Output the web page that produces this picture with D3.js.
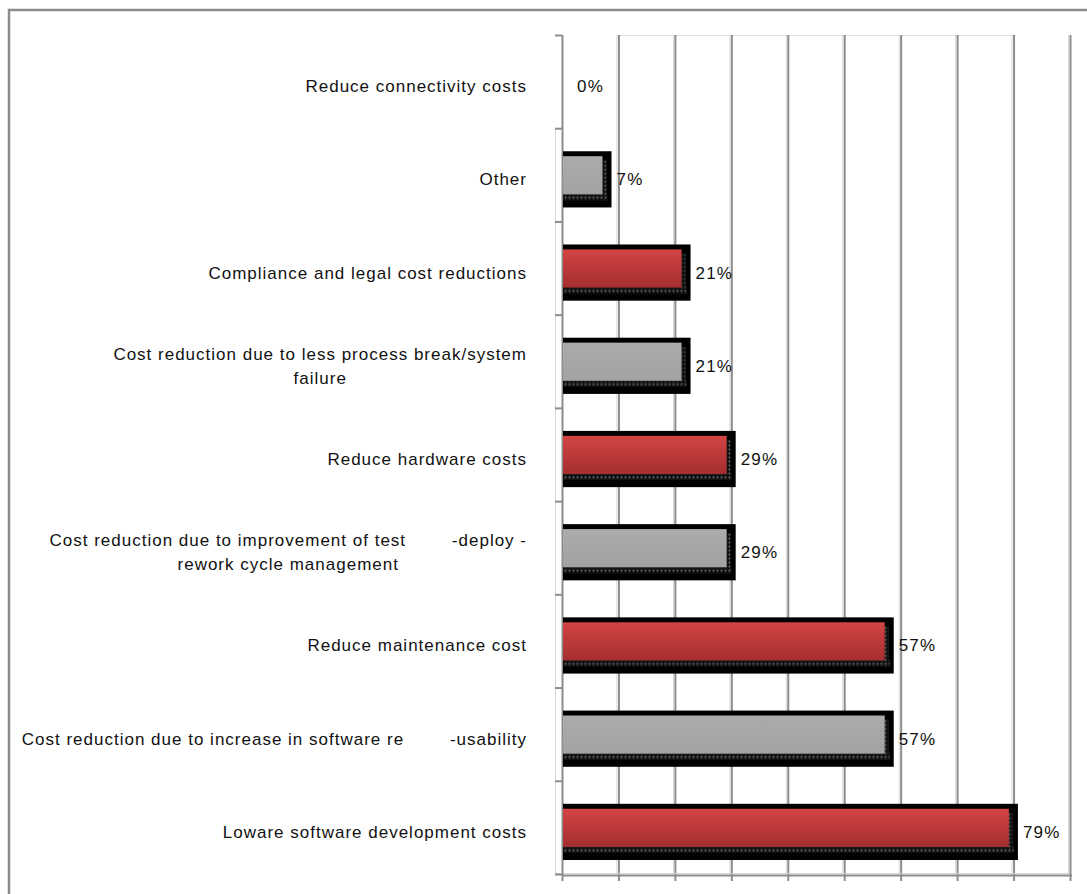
<!DOCTYPE html>
<html>
<head>
<meta charset="utf-8">
<script src="https://cdn.jsdelivr.net/npm/d3@7"></script>
<style>
  body { margin: 0; background: #fff; }
  text { font-family: "Liberation Sans", Arial, sans-serif; fill: #111; }
</style>
</head>
<body>
<div id="chart"></div>
<script>
// categories, top to bottom as drawn
var labels = [
    ["Reduce connectivity costs"],
    ["Other"],
    ["Compliance and legal cost reductions"],
    ["Cost reduction due to less process break/system", "failure"],
    ["Reduce hardware costs"],
    ["Cost reduction due to improvement of test        -deploy -", "rework cycle management"],
    ["Reduce maintenance cost"],
    ["Cost reduction due to increase in software re        -usability"],
    ["Loware software development costs"]
];
var values = [0, 7, 21, 21, 29, 29, 57, 57, 79];
var xTicks = [0, 10, 20, 30, 40, 50, 60, 70, 80, 90];

var width = 1087, height = 894;
var plot = {left: 562, right: 1070, top: 35, bottom: 874};

var svg = d3.select('#chart').append('svg')
    .attr('width', width)
    .attr('height', height);

var defs = svg.append('defs');

var red = defs.append('linearGradient')
    .attr('id', 'redGrad')
    .attr('x1', 0).attr('y1', 0).attr('x2', 0).attr('y2', 1);
red.append('stop').attr('offset', '0%').attr('stop-color', '#d44444');
red.append('stop').attr('offset', '100%').attr('stop-color', '#a42f2f');

var gray = defs.append('linearGradient')
    .attr('id', 'grayGrad')
    .attr('x1', 0).attr('y1', 0).attr('x2', 0).attr('y2', 1);
gray.append('stop').attr('offset', '0%').attr('stop-color', '#ababab');
gray.append('stop').attr('offset', '100%').attr('stop-color', '#a2a2a2');

// dotted shadow texture
var dots = defs.append('pattern')
    .attr('id', 'dots')
    .attr('patternUnits', 'userSpaceOnUse')
    .attr('width', 4).attr('height', 4);
dots.append('rect').attr('width', 4).attr('height', 4).attr('fill', '#111');
dots.append('circle').attr('cx', 1.5).attr('cy', 1.5).attr('r', 1).attr('fill', '#6a6a6a');

// outer frame
svg.append('rect')
    .attr('x', 9).attr('y', 10)
    .attr('width', 1200).attr('height', 1000)
    .attr('fill', 'none')
    .attr('stroke', '#8c8c8c')
    .attr('stroke-width', 2.5);

var x = d3.scaleLinear()
    .domain([0, 90])
    .range([plot.left, plot.right]);

var y = d3.scaleBand()
    .domain(d3.range(labels.length))
    .range([plot.top, plot.bottom])
    .padding(0);

var bw = y.bandwidth();

// gridlines
var grid = svg.append('g').attr('class', 'grid');
grid.append('line')
    .attr('x1', x(10)).attr('x2', x(80))
    .attr('y1', plot.top + 0.5).attr('y2', plot.top + 0.5)
    .attr('stroke', '#e2e2e2');
grid.selectAll('line.light')
    .data(xTicks.slice(1))
    .enter().append('line')
    .attr('class', 'light')
    .attr('x1', function (d) { return x(d) - 1.5; })
    .attr('x2', function (d) { return x(d) - 1.5; })
    .attr('y1', plot.top).attr('y2', plot.bottom - 1)
    .attr('stroke', '#d8d8d8')
    .attr('stroke-width', 1);
grid.selectAll('line.dark')
    .data(xTicks.slice(1))
    .enter().append('line')
    .attr('class', 'dark')
    .attr('x1', function (d) { return x(d) + 0.5; })
    .attr('x2', function (d) { return x(d) + 0.5; })
    .attr('y1', plot.top).attr('y2', plot.bottom + 7)
    .attr('stroke', '#8c8c8c')
    .attr('stroke-width', 2);

// axes (double line look)
var axis = svg.append('g').attr('class', 'axis');
axis.append('line')
    .attr('x1', plot.left - 6.5).attr('x2', plot.left - 6.5)
    .attr('y1', plot.top + bw).attr('y2', plot.bottom)
    .attr('stroke', '#d6d6d6');
axis.append('line')
    .attr('x1', plot.left - 6.5).attr('x2', plot.right)
    .attr('y1', plot.bottom - 0.5).attr('y2', plot.bottom - 0.5)
    .attr('stroke', '#d6d6d6');
axis.append('line')
    .attr('x1', plot.left + 0.5).attr('x2', plot.left + 0.5)
    .attr('y1', plot.top).attr('y2', plot.bottom + 7)
    .attr('stroke', '#8c8c8c')
    .attr('stroke-width', 2);
axis.append('line')
    .attr('x1', plot.left).attr('x2', plot.right + 2)
    .attr('y1', plot.bottom + 1.5).attr('y2', plot.bottom + 1.5)
    .attr('stroke', '#8c8c8c')
    .attr('stroke-width', 2);
axis.selectAll('line.ytick')
    .data(d3.range(labels.length + 1))
    .enter().append('line')
    .attr('class', 'ytick')
    .attr('x1', plot.left - 7).attr('x2', plot.left)
    .attr('y1', function (i) { return plot.top + i * bw + 0.5; })
    .attr('y2', function (i) { return plot.top + i * bw + 0.5; })
    .attr('stroke', '#8c8c8c')
    .attr('stroke-width', 2);

// bars
var top0 = bw * 0.247, fillTop = bw * 0.30, fillBot = bw * 0.774, top1 = bw * 0.85;

var bar = svg.selectAll('g.bar')
    .data(values)
    .enter().append('g')
    .attr('class', 'bar')
    .attr('transform', function (d, i) { return 'translate(0,' + y(i) + ')'; });

bar.each(function (d, i) {
    if (d <= 0) return;
    var g = d3.select(this);
    var w = x(d) - x(0);
    // black frame
    g.append('rect')
        .attr('x', x(0) + 1).attr('y', top0)
        .attr('width', w + 9).attr('height', top1 - top0)
        .attr('fill', '#000');
    // dotted shadow bottom and right
    g.append('rect')
        .attr('x', x(0) + 1).attr('y', fillBot - 6)
        .attr('width', w + 5).attr('height', 6)
        .attr('fill', 'url(#dots)');
    g.append('rect')
        .attr('x', x(d) + 1).attr('y', fillTop + 4)
        .attr('width', 4).attr('height', fillBot - fillTop - 4)
        .attr('fill', 'url(#dots)');
    // face
    g.append('rect')
        .attr('x', x(0) + 1).attr('y', fillTop)
        .attr('width', w)
        .attr('height', fillBot - fillTop - 6)
        .attr('fill', i % 2 === 0 ? 'url(#redGrad)' : 'url(#grayGrad)');
});

bar.append('text')
    .attr('x', function (d) { return x(d) + 15; })
    .attr('y', (top0 + top1) / 2)
    .attr('dy', '0.35em')
    .style('font-size', '17px')
    .style('letter-spacing', '1.2px')
    .text(function (d) { return d + '%'; });

// category labels
var labelRight = 527;
var cat = svg.selectAll('g.cat')
    .data(labels)
    .enter().append('g')
    .attr('class', 'cat')
    .attr('transform', function (d, i) { return 'translate(0,' + (y(i) + (top0 + top1) / 2) + ')'; });

cat.each(function (lines) {
    var g = d3.select(this);
    var lh = 24;
    var t = g.selectAll('text')
        .data(lines)
        .enter().append('text')
        .attr('xml:space', 'preserve')
        .style('white-space', 'pre')
        .style('font-size', '17px')
        .style('letter-spacing', '1px')
        .attr('text-anchor', 'middle')
        .attr('y', function (d, k) { return (k - (lines.length - 1) / 2) * lh; })
        .attr('dy', '0.35em')
        .text(function (d) { return d; });
    var maxW = 0;
    t.each(function () { maxW = Math.max(maxW, this.getComputedTextLength()); });
    t.attr('x', labelRight - maxW / 2);
});
</script>
</body>
</html>
